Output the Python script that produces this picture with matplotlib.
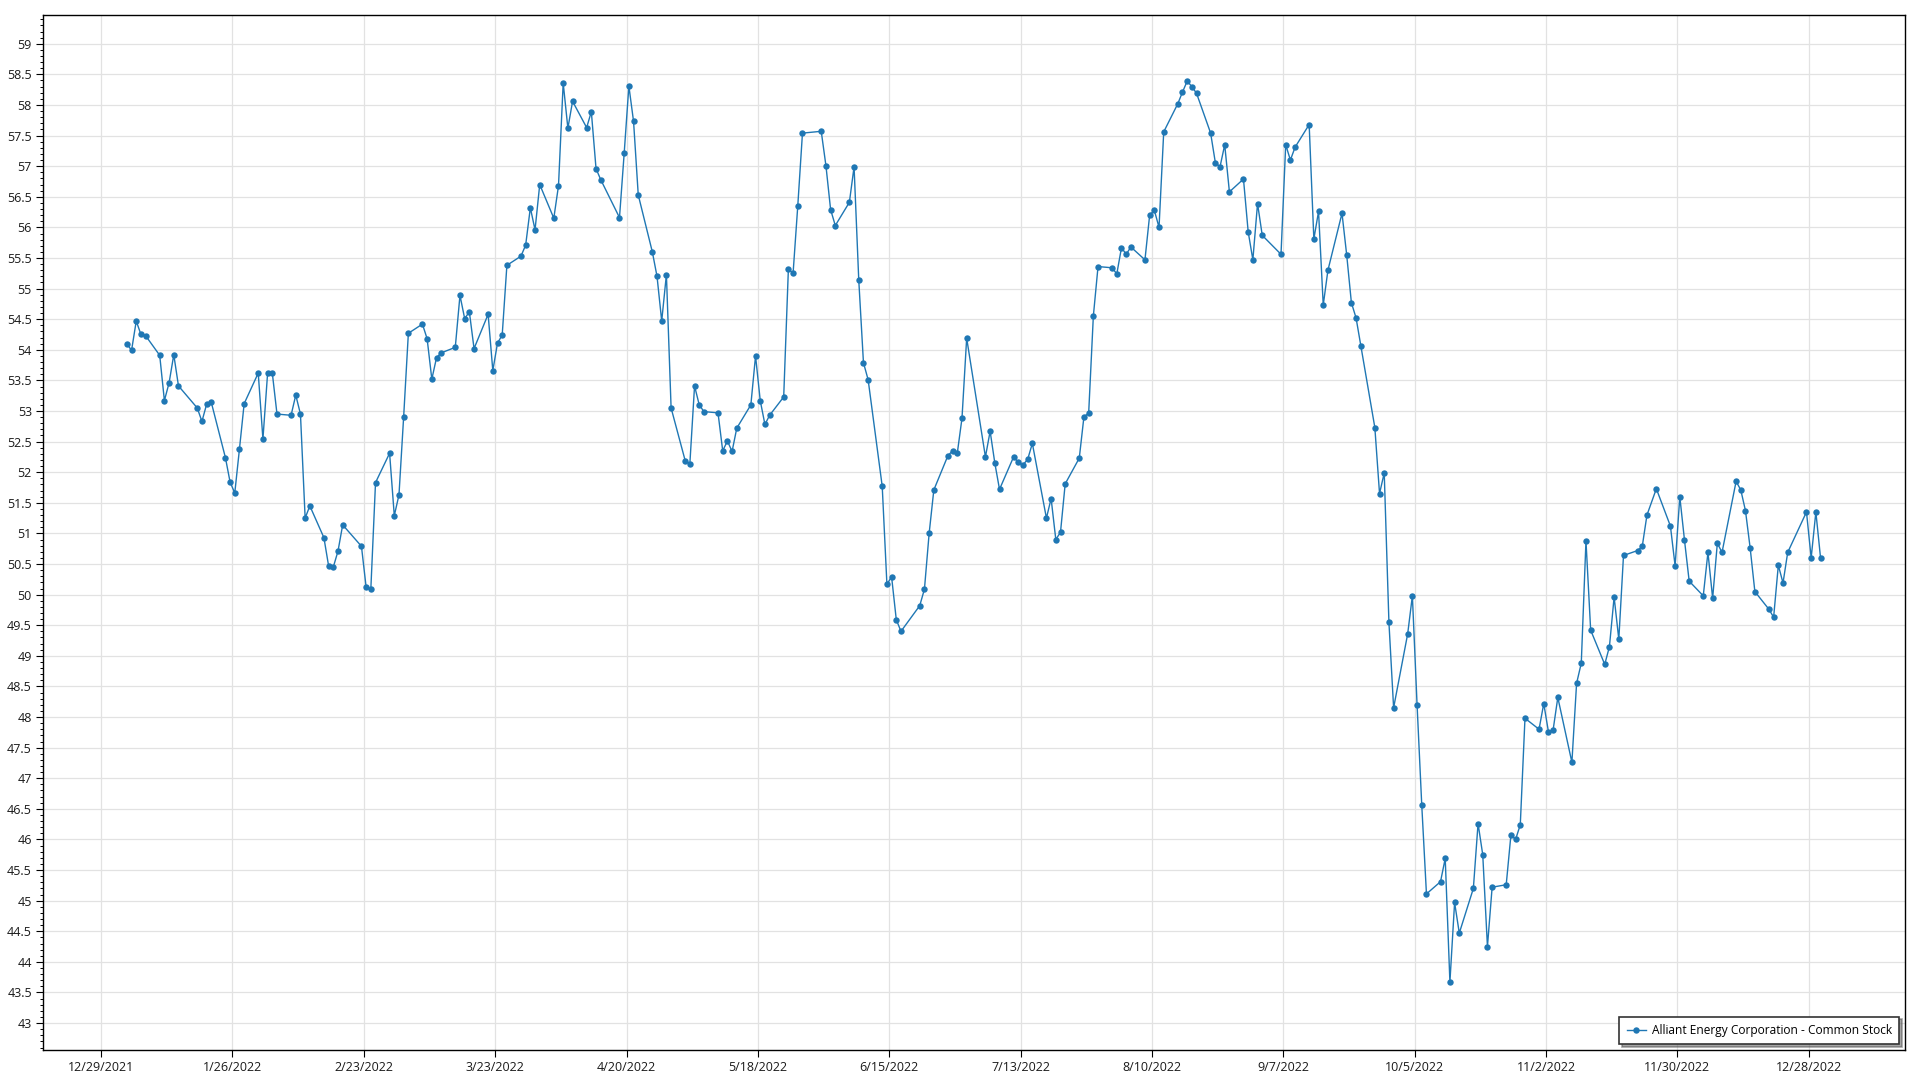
import matplotlib
matplotlib.use("Agg")
import matplotlib.pyplot as plt
import matplotlib.dates as mdates
import matplotlib.ticker as mtick
import pandas as pd

SERIES_NAME = "Alliant Energy Corporation - Common Stock"
YEAR = 2022

# trading days and closing prices, month by month
DAYS_JAN = [3, 4, 5, 6, 7, 10, 11, 12, 13, 14, 18, 19, 20, 21, 24, 25, 26, 27, 28, 31]
CLOSE_JAN = [54.10, 53.99, 54.47, 54.25, 54.23, 53.91, 53.17, 53.46, 53.92, 53.41,
             53.05, 52.83, 53.11, 53.14, 52.24, 51.84, 51.66, 52.38, 53.12, 53.62]
DAYS_FEB = [1, 2, 3, 4, 7, 8, 9, 10, 11, 14, 15, 16, 17, 18, 22, 23, 24, 25, 28]
CLOSE_FEB = [52.54, 53.62, 53.62, 52.95, 52.93, 53.26, 52.95, 51.25, 51.45, 50.93,
             50.47, 50.45, 50.71, 51.14, 50.79, 50.12, 50.09, 51.83, 52.31]
DAYS_MAR = [1, 2, 3, 4, 7, 8, 9, 10, 11, 14, 15, 16, 17, 18, 21, 22, 23, 24, 25, 28, 29, 30, 31]
CLOSE_MAR = [51.29, 51.63, 52.91, 54.27, 54.42, 54.18, 53.52, 53.87, 53.95, 54.04,
             54.89, 54.51, 54.62, 54.02, 54.58, 53.66, 54.11, 54.24, 55.38, 55.53,
             55.71, 56.32, 55.96]
DAYS_APR = [1, 4, 5, 6, 7, 8, 11, 12, 13, 14, 18, 19, 20, 21, 22, 25, 26, 27, 28, 29]
CLOSE_APR = [56.70, 56.15, 56.68, 58.36, 57.62, 58.06, 57.63, 57.89, 56.96, 56.78,
             56.16, 57.21, 58.31, 57.73, 56.53, 55.60, 55.20, 54.47, 55.23, 53.05]
DAYS_MAY = [2, 3, 4, 5, 6, 9, 10, 11, 12, 13, 16, 17, 18, 19, 20, 23, 24, 25, 26, 27, 31]
CLOSE_MAY = [52.19, 52.14, 53.41, 53.10, 52.99, 52.97, 52.35, 52.51, 52.34, 52.72,
             53.10, 53.90, 53.17, 52.78, 52.93, 53.23, 55.32, 55.25, 56.35, 57.54, 57.57]
DAYS_JUN = [1, 2, 3, 6, 7, 8, 9, 10, 13, 14, 15, 16, 17, 21, 22, 23, 24, 27, 28, 29, 30]
CLOSE_JUN = [57.01, 56.29, 56.03, 56.41, 56.99, 55.14, 53.79, 53.51, 51.77, 50.17,
             50.29, 49.59, 49.40, 49.82, 50.09, 51.00, 51.71, 52.27, 52.35, 52.31, 52.88]
DAYS_JUL = [1, 5, 6, 7, 8, 11, 12, 13, 14, 15, 18, 19, 20, 21, 22, 25, 26, 27, 28, 29]
CLOSE_JUL = [54.19, 52.25, 52.67, 52.15, 51.72, 52.25, 52.16, 52.12, 52.21, 52.47,
             51.25, 51.57, 50.90, 51.02, 51.81, 52.23, 52.91, 52.96, 54.55, 55.36]
DAYS_AUG = [1, 2, 3, 4, 5, 8, 9, 10, 11, 12, 15, 16, 17, 18, 19, 22, 23, 24, 25, 26, 29, 30, 31]
CLOSE_AUG = [55.34, 55.24, 55.67, 55.56, 55.68, 55.47, 56.20, 56.28, 56.00, 57.56,
             58.02, 58.21, 58.39, 58.30, 58.19, 57.54, 57.06, 56.99, 57.35, 56.58,
             56.79, 55.93, 55.47]
DAYS_SEP = [1, 2, 6, 7, 8, 9, 12, 13, 14, 15, 16, 19, 20, 21, 22, 23, 26, 27, 28, 29, 30]
CLOSE_SEP = [56.39, 55.87, 55.56, 57.35, 57.10, 57.31, 57.68, 55.81, 56.26, 54.73,
             55.30, 56.23, 55.55, 54.77, 54.52, 54.07, 52.73, 51.65, 51.99, 49.55, 48.15]
DAYS_OCT = [3, 4, 5, 6, 7, 10, 11, 12, 13, 14, 17, 18, 19, 20, 21, 24, 25, 26, 27, 28, 31]
CLOSE_OCT = [49.36, 49.98, 48.20, 46.56, 45.11, 45.31, 45.69, 43.67, 44.97, 44.47,
             45.20, 46.26, 45.75, 44.25, 45.22, 45.26, 46.07, 46.00, 46.24, 47.98, 47.80]
DAYS_NOV = [1, 2, 3, 4, 7, 8, 9, 10, 11, 14, 15, 16, 17, 18, 21, 22, 23, 25, 28, 29, 30]
CLOSE_NOV = [48.22, 47.76, 47.79, 48.32, 47.26, 48.55, 48.88, 50.88, 49.42, 48.86,
             49.15, 49.96, 49.27, 50.64, 50.72, 50.79, 51.30, 51.73, 51.12, 50.47, 51.60]
DAYS_DEC = [1, 2, 5, 6, 7, 8, 9, 12, 13, 14, 15, 16, 19, 20, 21, 22, 23, 27, 28, 29, 30]
CLOSE_DEC = [50.89, 50.22, 49.98, 50.69, 49.94, 50.84, 50.69, 51.85, 51.71, 51.37,
             50.76, 50.05, 49.76, 49.63, 50.48, 50.19, 50.69, 51.35, 50.60, 51.35, 50.60]

MONTHS = [(1, DAYS_JAN, CLOSE_JAN), (2, DAYS_FEB, CLOSE_FEB), (3, DAYS_MAR, CLOSE_MAR),
          (4, DAYS_APR, CLOSE_APR), (5, DAYS_MAY, CLOSE_MAY), (6, DAYS_JUN, CLOSE_JUN),
          (7, DAYS_JUL, CLOSE_JUL), (8, DAYS_AUG, CLOSE_AUG), (9, DAYS_SEP, CLOSE_SEP),
          (10, DAYS_OCT, CLOSE_OCT), (11, DAYS_NOV, CLOSE_NOV), (12, DAYS_DEC, CLOSE_DEC)]

LINE_COLOR = "#1f77b4"
FONT = "Open Sans"


def build_series():
    dates = []
    vals = []
    for m, days, closes in MONTHS:
        for d, v in zip(days, closes):
            # the reference places each day's point at midday
            dates.append(pd.Timestamp(YEAR, m, d, 12))
            vals.append(v)
    return dates, vals


def main():
    plt.rcParams["font.family"] = [FONT, "DejaVu Sans"]
    dates, vals = build_series()

    fig = plt.figure(figsize=(19.2, 10.8), dpi=100)
    ax = fig.add_axes([43 / 1920, 1 - 1050 / 1080, 1862 / 1920, 1035 / 1080])

    ax.plot(dates, vals, color=LINE_COLOR, linewidth=1.0, marker="o",
            markersize=4.6, markeredgewidth=0, label=SERIES_NAME, zorder=3)

    ax.set_xlim(pd.Timestamp("2021-12-16 15:00"), pd.Timestamp("2023-01-17 12:00"))
    ax.set_ylim(42.56, 59.47)

    xticks = pd.date_range("2021-12-29", "2023-01-10", freq="28D")
    ax.set_xticks(mdates.date2num(xticks))
    ax.set_xticklabels([f"{t.month}/{t.day}/{t.year}" for t in xticks])

    ax.yaxis.set_major_locator(mtick.MultipleLocator(0.5))
    ax.yaxis.set_minor_locator(mtick.MultipleLocator(0.1))
    ax.yaxis.set_major_formatter(mtick.FuncFormatter(lambda v, p: f"{v:g}"))

    ax.grid(True, which="major", color="#e2e2e2", linewidth=0.9, zorder=0)
    ax.set_axisbelow(True)
    for s in ax.spines.values():
        s.set_color("black")
        s.set_linewidth(1.0)

    ax.tick_params(axis="both", which="major", labelsize=9, length=5, width=0.8,
                   color="black", labelcolor="#1a1a1a", pad=3)
    ax.tick_params(axis="y", which="minor", length=2.5, width=0.7, color="black")

    leg = ax.legend(loc="lower right", fontsize=8.6, frameon=True, fancybox=False,
                    shadow=True, borderaxespad=0.5, handlelength=1.6,
                    handletextpad=0.5, borderpad=0.6)
    leg.get_frame().set_edgecolor("#333333")
    leg.get_frame().set_linewidth(1.2)

    fig.savefig("out.png", dpi=100, facecolor="white")


if __name__ == "__main__":
    main()
